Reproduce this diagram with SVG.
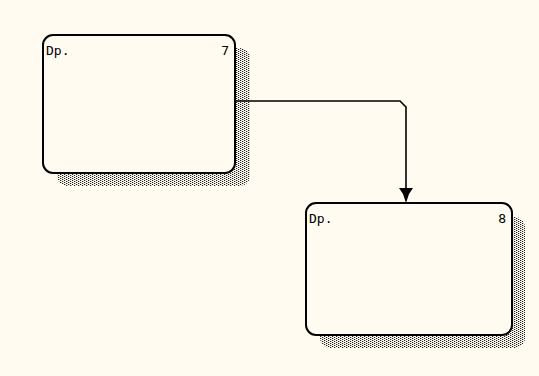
<svg xmlns="http://www.w3.org/2000/svg" width="539" height="376" viewBox="0 0 539 376">
<defs>
<pattern id="dither" x="0" y="0" width="4" height="2" patternUnits="userSpaceOnUse">
<rect x="0" y="0" width="4" height="2" fill="#FFFBF0"/>
<rect x="0" y="0" width="1" height="1" fill="#222"/>
<rect x="2" y="1" width="1" height="1" fill="#222"/>
<rect x="1" y="0" width="1" height="1" fill="#c8c8c0"/>
<rect x="3" y="1" width="1" height="1" fill="#c8c8c0"/>
</pattern>
<style>
.bg{fill:#FFFBF0}
.box{fill:#FFFBF0;stroke:#000;stroke-width:2}
.shadow{fill:url(#dither)}
.lbl{font-family:"DejaVu Sans Mono","Liberation Mono",monospace;font-size:13px;fill:#000}
.conn{fill:none;stroke:#000;stroke-width:1.6}
.head{fill:#000}
</style>
</defs>
<rect class="bg" x="0" y="0" width="539" height="376"/>
<g id="node7">
<rect class="shadow" x="57" y="48" width="193" height="138" rx="10"/>
<rect class="box" x="43" y="35" width="192" height="138" rx="10"/>
<text class="lbl" x="46" y="55">Dp.</text>
<text class="lbl" x="229" y="55" text-anchor="end">7</text>
</g>
<g id="node8">
<rect class="shadow" x="320" y="217" width="205" height="131" rx="10"/>
<rect class="box" x="306" y="203" width="206" height="132" rx="10"/>
<text class="lbl" x="309" y="223">Dp.</text>
<text class="lbl" x="506" y="223" text-anchor="end">8</text>
</g>
<g id="connectors">
<path class="conn" d="M235 101 H400 L406 107 V190"/>
<path class="head" d="M399 188 H413 L409 194 L406 203 L403 194 Z"/>
</g>
</svg>
